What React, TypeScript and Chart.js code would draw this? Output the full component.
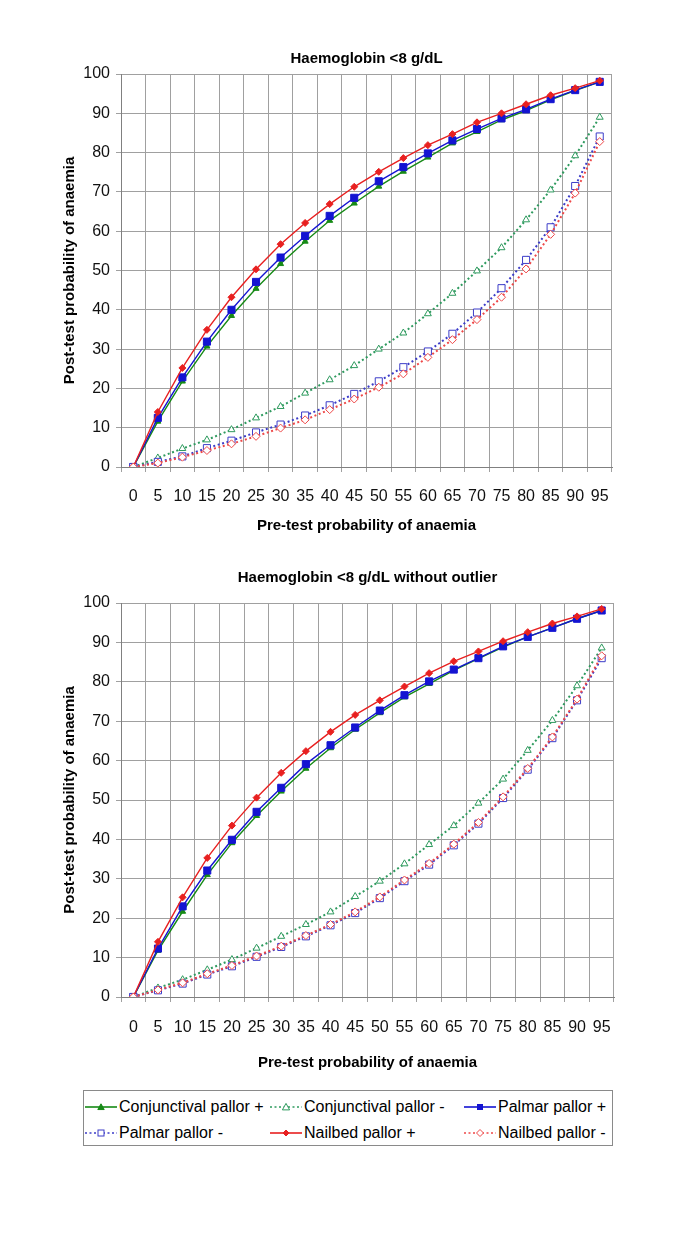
import React, { useEffect, useRef } from "react";
import { Chart, registerables } from "chart.js";

Chart.register(...registerables);

// ---------- data ----------
const categories = ["0", "5", "10", "15", "20", "25", "30", "35", "40", "45", "50", "55", "60", "65", "70", "75", "80", "85", "90", "95"];

const seriesNames = ["Conjunctival pallor +", "Conjunctival pallor -", "Palmar pallor +", "Palmar pallor -", "Nailbed pallor +", "Nailbed pallor -"];

// Chart 1: Haemoglobin <8 g/dL
const conjPos1 = [0, 11.6, 21.8, 30.7, 38.5, 45.4, 51.7, 57.4, 62.7, 67.1, 71.4, 75.2, 78.8, 82.4, 85.3, 88.3, 90.7, 93.4, 95.8, 98.0];
const conjNeg1 = [0, 2.3, 4.7, 6.9, 9.5, 12.5, 15.4, 18.8, 22.2, 25.8, 30.0, 34.1, 39.0, 44.2, 49.9, 55.8, 62.9, 70.5, 79.2, 89.0];
const palmPos1 = [0, 12.5, 22.8, 31.9, 40.0, 47.1, 53.3, 58.8, 63.9, 68.5, 72.7, 76.3, 79.8, 83.1, 86.0, 88.7, 91.0, 93.6, 95.9, 98.0];
const palmNeg1 = [0, 1.3, 2.7, 4.8, 6.7, 8.8, 10.8, 13.1, 15.7, 18.6, 21.8, 25.4, 29.4, 33.9, 39.3, 45.5, 52.7, 61.0, 71.5, 84.1];
const nailPos1 = [0, 14.0, 25.2, 34.9, 43.2, 50.3, 56.7, 62.1, 66.9, 71.3, 75.1, 78.6, 81.9, 84.7, 87.7, 90.0, 92.3, 94.6, 96.4, 98.3];
const nailNeg1 = [0, 1.0, 2.5, 4.2, 5.9, 7.8, 9.9, 12.0, 14.6, 17.3, 20.3, 23.7, 27.9, 32.4, 37.5, 43.2, 50.4, 59.2, 69.7, 82.8];

// Chart 2: Haemoglobin <8 g/dL without outlier
const conjPos2 = [0, 11.8, 21.7, 31.0, 39.1, 46.0, 52.2, 58.0, 63.2, 67.9, 72.1, 76.1, 79.5, 82.9, 85.9, 88.8, 91.4, 93.7, 96.0, 98.1];
const conjNeg2 = [0, 2.3, 4.4, 6.9, 9.5, 12.4, 15.4, 18.4, 21.6, 25.5, 29.4, 33.8, 38.7, 43.5, 49.2, 55.3, 62.6, 70.2, 79.0, 88.6];
const palmPos2 = [0, 12.3, 23.0, 32.1, 39.9, 47.0, 53.1, 59.1, 63.9, 68.4, 72.7, 76.6, 80.1, 83.1, 86.0, 89.0, 91.4, 93.7, 96.0, 98.1];
const palmNeg2 = [0, 1.7, 3.4, 5.7, 7.8, 10.2, 12.7, 15.4, 18.2, 21.3, 25.1, 29.4, 33.6, 38.5, 44.0, 50.5, 57.7, 65.7, 75.3, 86.0];
const nailPos2 = [0, 14.0, 25.3, 35.3, 43.5, 50.6, 56.9, 62.4, 67.3, 71.6, 75.3, 78.8, 82.2, 85.2, 87.7, 90.3, 92.6, 94.8, 96.6, 98.5];
const nailNeg2 = [0, 1.8, 3.6, 5.9, 8.0, 10.4, 12.9, 15.6, 18.4, 21.6, 25.4, 29.7, 33.9, 38.8, 44.3, 50.8, 58.0, 66.0, 75.6, 86.6];

const yTicks = [0, 10, 20, 30, 40, 50, 60, 70, 80, 90, 100];

const title1 = "Haemoglobin <8 g/dL";
const title2 = "Haemoglobin <8 g/dL without outlier";
const xTitle = "Pre-test probability of anaemia";
const yTitle = "Post-test probability of anaemia";

// ---------- styles ----------
const FONT = "'Liberation Sans', Arial, sans-serif";
const GREEN = "#168a16";
const GREEN_D = "#2e9a5e";
const BLUE = "#1414d2";
const BLUE_D = "#3c3cc8";
const RED = "#e82020";
const RED_D = "#ee4848";
const GRID = "#a0a0a0";

const styles = [
  { color: GREEN, dashed: false, point: "triangle", fill: true, radius: 3.5 },
  { color: GREEN_D, dashed: true, point: "triangle", fill: false, radius: 4 },
  { color: BLUE, dashed: false, point: "rect", fill: true, radius: 5 },
  { color: BLUE_D, dashed: true, point: "rect", fill: false, radius: 5 },
  { color: RED, dashed: false, point: "rectRot", fill: true, radius: 3.5 },
  { color: RED_D, dashed: true, point: "rectRot", fill: false, radius: 4 },
];

function makeDatasets(series: number[][]) {
  return series.map((vals, i) => {
    const s = styles[i];
    return {
      label: seriesNames[i],
      data: vals,
      borderColor: s.color,
      backgroundColor: s.fill ? s.color : "#ffffff",
      borderWidth: s.dashed ? 2 : 1.4,
      borderDash: s.dashed ? [2, 2.6] : [],
      pointStyle: s.point,
      pointRadius: s.radius,
      pointBorderWidth: 1,
      pointBorderColor: s.color,
      pointBackgroundColor: s.fill ? s.color : "#ffffff",
      tension: 0,
      fill: false,
      order: 5 - i,
    };
  });
}

type ChartProps = {
  title: string;
  series: number[][];
  width: number;
  height: number;
  titlePadTop: number;
  titlePadBottom: number;
  padRight: number;
  xHeight: number;
  xTickPad: number;
  xTitlePadBottom: number;
};

function LineChart(p: ChartProps) {
  const ref = useRef<HTMLCanvasElement | null>(null);
  useEffect(() => {
    if (!ref.current) return;
    const chart = new Chart(ref.current, {
      type: "line",
      data: { labels: categories, datasets: makeDatasets(p.series) as any },
      options: {
        animation: false,
        responsive: false,
        devicePixelRatio: 1,
        layout: { padding: { left: 0, right: p.padRight, top: 0, bottom: 0 } },
        plugins: {
          legend: { display: false },
          tooltip: { enabled: false },
          title: {
            display: true,
            text: p.title,
            fullSize: false,
            color: "#000",
            font: { family: FONT, size: 15, weight: "bold" },
            padding: { top: p.titlePadTop, bottom: p.titlePadBottom },
          },
        },
        scales: {
          x: {
            type: "category",
            offset: true,
            grid: { offset: true, color: GRID, lineWidth: 1, tickLength: 5, drawTicks: true },
            border: { color: "#808080", width: 1 },
            ticks: {
              color: "#111",
              font: { family: FONT, size: 16 },
              padding: p.xTickPad,
              maxRotation: 0,
              autoSkip: false,
            },
            title: {
              display: true,
              text: xTitle,
              color: "#000",
              font: { family: FONT, size: 15, weight: "bold" },
              padding: { top: 0, bottom: p.xTitlePadBottom },
            },
            afterFit: (scale: any) => {
              scale.height = p.xHeight;
            },
          },
          y: {
            min: 0,
            max: 100,
            grid: { color: GRID, lineWidth: 1, tickLength: 5 },
            border: { color: "#808080", width: 1 },
            afterBuildTicks: (scale: any) => {
              scale.ticks = yTicks.map((v) => ({ value: v }));
            },
            ticks: {
              color: "#111",
              font: { family: FONT, size: 16 },
              padding: 6,
            },
            title: {
              display: true,
              text: yTitle,
              color: "#000",
              font: { family: FONT, size: 15, weight: "bold" },
              padding: { top: 53, bottom: 0 },
            },
            afterFit: (scale: any) => {
              scale.width = 113;
            },
          },
        },
      } as any,
    });
    return () => chart.destroy();
  }, []);
  return <canvas ref={ref} width={p.width} height={p.height} style={{ width: p.width, height: p.height, display: "block" }} />;
}

function LegendMarker({ idx }: { idx: number }) {
  const s = styles[idx];
  const cx = 16;
  const cy = 6;
  let marker: React.ReactNode = null;
  const fill = s.fill ? s.color : "#fff";
  if (s.point === "triangle") {
    const r = s.fill ? 3.2 : 3.6;
    marker = <polygon points={`${cx},${cy - r} ${cx + r},${cy + r * 0.8} ${cx - r},${cy + r * 0.8}`} fill={fill} stroke={s.color} strokeWidth={1} />;
  } else if (s.point === "rect") {
    const h = s.fill ? 2.5 : 3;
    marker = <rect x={cx - h} y={cy - h} width={h * 2} height={h * 2} fill={fill} stroke={s.color} strokeWidth={1} />;
  } else {
    const r = s.fill ? 3 : 3.5;
    marker = <polygon points={`${cx},${cy - r} ${cx + r},${cy} ${cx},${cy + r} ${cx - r},${cy}`} fill={fill} stroke={s.color} strokeWidth={1} />;
  }
  return (
    <svg width={32} height={12} style={{ display: "block", flex: "0 0 auto" }}>
      <line x1={0} y1={cy} x2={32} y2={cy} stroke={s.color} strokeWidth={s.dashed ? 1.6 : 1.6} strokeDasharray={s.dashed ? "2 2.5" : undefined} />
      {marker}
    </svg>
  );
}

const legendCols = [1, 186, 380];
const legendRows = [16, 42];
const legendOrder = [0, 1, 2, 3, 4, 5];

function Legend() {
  return (
    <div
      style={{
        position: "absolute",
        left: 75,
        top: 1082,
        width: 530,
        height: 56,
        boxSizing: "border-box",
        border: "1px solid #8a8a8a",
        fontFamily: FONT,
        fontSize: 16,
        color: "#000",
      }}
    >
      {legendOrder.map((idx, k) => {
        const col = k % 3;
        const row = Math.floor(k / 3);
        return (
          <div
            key={idx}
            style={{
              position: "absolute",
              left: legendCols[col],
              top: legendRows[row] - 10,
              height: 20,
              display: "flex",
              alignItems: "center",
              whiteSpace: "nowrap",
              gap: 2,
            }}
          >
            <LegendMarker idx={idx} />
            <span style={{ lineHeight: "20px" }}>{seriesNames[idx]}</span>
          </div>
        );
      })}
    </div>
  );
}

export default function App() {
  return (
    <div style={{ position: "relative", width: 669, height: 1233, background: "#fff" }}>
      <div style={{ position: "absolute", left: 0, top: 0 }}>
        <LineChart
          title={title1}
          series={[conjPos1, conjNeg1, palmPos1, palmNeg1, nailPos1, nailNeg1]}
          width={669}
          height={540}
          titlePadTop={42}
          titlePadBottom={6}
          padRight={65}
          xHeight={81}
          xTickPad={15}
          xTitlePadBottom={13}
        />
      </div>
      <div style={{ position: "absolute", left: 0, top: 545 }}>
        <LineChart
          title={title2}
          series={[conjPos2, conjNeg2, palmPos2, palmNeg2, nailPos2, nailNeg2]}
          width={669}
          height={530}
          titlePadTop={16}
          titlePadBottom={16}
          padRight={63}
          xHeight={86}
          xTickPad={16}
          xTitlePadBottom={11}
        />
      </div>
      <Legend />
    </div>
  );
}
